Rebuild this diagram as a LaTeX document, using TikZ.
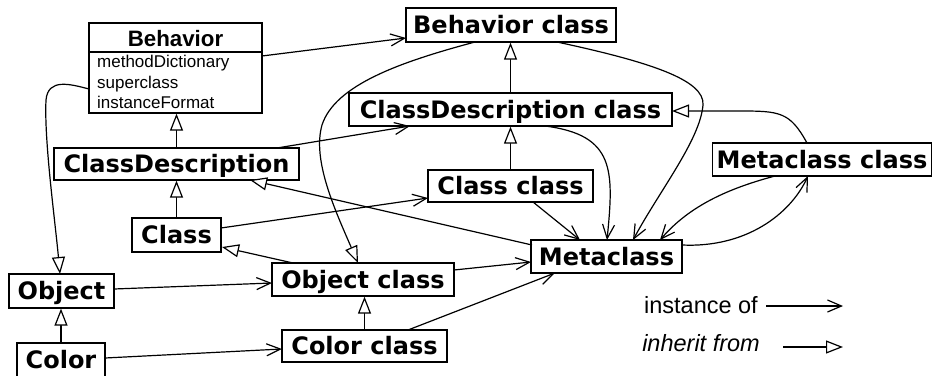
\documentclass[tikz,border=0pt]{standalone}
\usepackage{fontspec}
\setmainfont{Liberation Sans}
\newfontfamily\boxfont{DejaVu Sans}
\usetikzlibrary{arrows.meta,calc}
\begin{document}
\begin{tikzpicture}[x=1pt,y=-1pt,
  box/.style={draw, line width=1.3pt, inner sep=0pt,
    font=\boxfont\bfseries\fontsize{24}{28}\selectfont,
    text height=20pt, text depth=2.5pt},
  inst/.style={line width=1.2pt, -{Straight Barb[length=14pt,width=12pt,line width=1.2pt]}},
  inh/.style={line width=1.2pt, -{Triangle[open,length=17pt,width=13pt,fill=white,line width=1.2pt]}},
  attr/.style={inner sep=0pt, font=\fontsize{17}{20}\selectfont},
  legend/.style={inner sep=0pt, font=\fontsize{23.5}{28}\selectfont}]
\clip (0,0) rectangle (933,375);
\useasboundingbox (0,0) rectangle (933,375);

% class boxes
\node[box, minimum width=210pt, minimum height=34pt] (bc) at (511,25) {Behavior class};
\node[box, minimum width=323pt, minimum height=33pt] (cdc) at (510.5,109.5) {ClassDescription class};
\node[box, minimum width=245pt, minimum height=32pt] (cd) at (176.5,164) {ClassDescription};
\node[box, minimum width=165pt, minimum height=32pt] (ccl) at (510.5,186) {Class class};
\node[box, minimum width=219pt, minimum height=33pt] (mcc) at (822,159.5) {Metaclass class};
\node[box, minimum width=89pt, minimum height=34pt] (cl) at (176.5,235) {Class};
\node[box, minimum width=151pt, minimum height=33pt] (mc) at (606.5,256.5) {Metaclass};
\node[box, minimum width=182pt, minimum height=33pt] (oc) at (363,279.5) {Object class};
\node[box, minimum width=105pt, minimum height=34pt] (ob) at (61.5,291) {Object};
\node[box, minimum width=165pt, minimum height=32pt] (colc) at (364.5,346) {Color class};
\node[box, minimum width=88pt, minimum height=34pt] (col) at (61,360) {Color};

% Behavior UML box
\node[draw, line width=1.3pt, minimum width=173pt, minimum height=90pt, inner sep=0pt] (beh) at (175.5,68) {};
\coordinate (div) at (0,52);
\draw[line width=1.3pt] (beh.west |- div) -- (beh.east |- div);
\node[anchor=base, inner sep=0pt, font=\bfseries\fontsize{22.3}{26}\selectfont] (behT) at (175.5,46) {Behavior};
\node[anchor=base west, attr] (a1) at (97,67.5) {methodDictionary};
\node[anchor=base west, attr] (a2) at (97,88) {superclass};
\node[anchor=base west, attr] (a3) at (97,108) {instanceFormat};

% instance-of connectors
\draw[inst] ($(beh)+(86.5,-12)$) -- ($(bc)+(-105,13)$);
\draw[inst] ($(cd)+(100.5,-16)$) -- ($(cdc)+(-100.5,16.5)$);
\draw[inst] ($(cl)+(44.5,-7)$) -- ($(ccl)+(-82.5,12)$);
\draw[inst] ($(ob)+(52.5,-2)$) -- ($(oc)+(-91,3.5)$);
\draw[inst] ($(col)+(44,-2)$) -- ($(colc)+(-82.5,3)$);
\draw[inst] ($(oc)+(91,-9.5)$) -- ($(mc)+(-75.5,5.5)$);
\draw[inst] ($(colc)+(43.5,-16)$) -- ($(mc)+(-51.5,16.5)$);
\draw[inst] ($(ccl)+(22.5,16)$) -- ($(mc)+(-26.5,-16.5)$);
\draw[inst] ($(cdc)+(34.5,16.5)$) .. controls (615,135) and (614,170) .. ($(mc)+(0.5,-16.5)$);
\draw[inst] ($(bc)+(46,17)$) .. controls (650,62) and (705,80) .. (703,105)
  .. controls (700,140) and (660,190) .. ($(mc)+(26.5,-16.5)$);
\draw[inst] ($(mcc)+(-47,16.5)$) .. controls (730,188) and (690,205) .. ($(mc)+(53.5,-16.5)$);
\draw[inst] ($(mc)+(75.5,-11.5)$) .. controls (745,248) and (790,215) .. ($(mcc)+(-14,16.5)$);

% inheritance connectors
\draw[inh] ($(beh)+(-86.5,21)$) .. controls (70,84) and (48,78) .. (46,100)
  .. controls (44,140) and (55,220) .. ($(ob)+(-1.5,-17)$);
\draw[inh] ($(bc)+(-36,17)$) .. controls (400,62) and (335,85) .. (322,125)
  .. controls (312,160) and (335,210) .. ($(oc)+(-5,-16.5)$);
\draw[inh] ($(mc)+(-74.5,-11.5)$) -- ($(cd)+(73.5,16)$);
\draw[inh] ($(oc)+(-70,-16.5)$) -- ($(cl)+(45.5,12)$);
\draw[inh] ($(mcc)+(-15,-16.5)$) .. controls (790,112) and (780,111) .. (740,111) -- ($(cdc)+(161.5,1.5)$);
\draw[inh] (cd.north) -- (cd.north |- beh.south);
\draw[inh] (cl.north) -- (cl.north |- cd.south);
\draw[inh] (col.north) -- (col.north |- ob.south);
\draw[inh] (colc.north) -- (colc.north |- oc.south);
\draw[inh] (ccl.north) -- (ccl.north |- cdc.south);
\draw[inh] (cdc.north) -- (cdc.north |- bc.south);

% legend
\node[anchor=base east, legend] (li) at (758,313) {instance of};
\node[anchor=base east, legend, font=\itshape\fontsize{23.5}{28}\selectfont] (lh) at (760,351) {inherit from};
\coordinate (li1) at (766,306);
\coordinate (li2) at (843,306);
\coordinate (lh1) at (783,347);
\coordinate (lh2) at (843,347);
\draw[inst] (li1) -- (li2);
\draw[inh] (lh1) -- (lh2);
\end{tikzpicture}
\end{document}
